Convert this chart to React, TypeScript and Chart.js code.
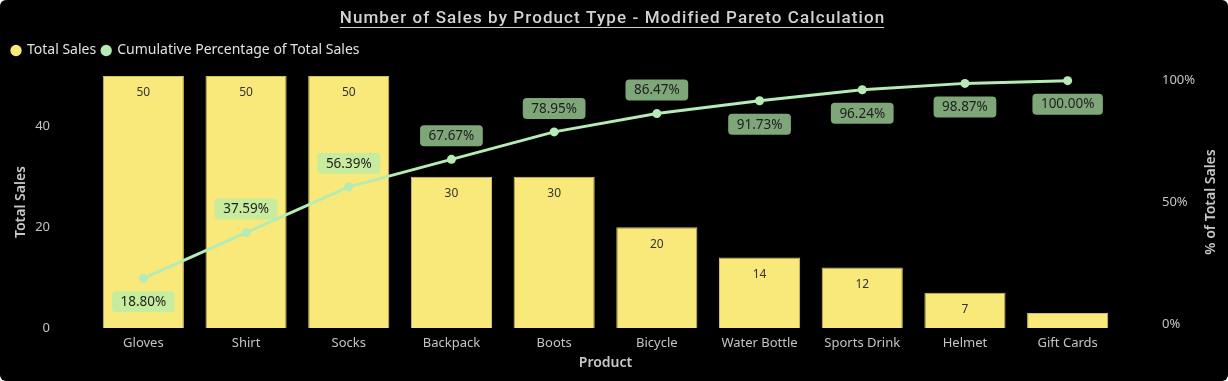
import { useEffect, useRef } from 'react';
import { Chart, registerables } from 'chart.js';

Chart.register(...registerables);

const categories = ['Gloves', 'Shirt', 'Socks', 'Backpack', 'Boots', 'Bicycle', 'Water Bottle', 'Sports Drink', 'Helmet', 'Gift Cards'];
const totalSales = [50, 50, 50, 30, 30, 20, 14, 12, 7, 3];
const cumulativePct = [18.8, 37.59, 56.39, 67.67, 78.95, 86.47, 91.73, 96.24, 98.87, 100.0];
const leftTicks = [0, 20, 40];
const rightTicks = [0, 50, 100];
const chartTitle = 'Number of Sales by Product Type - Modified Pareto Calculation';

const FONT = "'Noto Sans', 'Open Sans', sans-serif";
const TITLE_FONT = "Roboto, 'Noto Sans', sans-serif";
const BAR = '#F9E97A';
const LINE = '#B5EBB5';
const TICK = '#c4c4c4';
const AXIS_TITLE = '#c8c8c8';

export default function App() {
  const ref = useRef<HTMLCanvasElement>(null);

  useEffect(() => {
    const canvas = ref.current;
    if (!canvas) return;

    const legendSpacer = {
      id: 'legendSpacer',
      beforeInit(chart: any) {
        const legend = chart.legend;
        if (!legend) return;
        const orig = legend.fit;
        legend.fit = function () {
          orig.call(this);
          this.height += 8.5;
        };
      },
    };

    const decorations = {
      id: 'decorations',
      afterDraw(chart: any) {
        const ctx = chart.ctx;
        const area = chart.chartArea;
        ctx.save();
        // chart title with underline
        ctx.font = `500 17px ${TITLE_FONT}`;
        ctx.fillStyle = '#d2d2d2';
        ctx.textBaseline = 'alphabetic';
        ctx.textAlign = 'left';
        const baseW = ctx.measureText(chartTitle).width;
        const targetW = 544;
        const spacing = Math.max(0, (targetW - baseW) / (chartTitle.length - 1));
        (ctx as any).letterSpacing = `${spacing}px`;
        const w = ctx.measureText(chartTitle).width - spacing;
        const x0 = 612 - w / 2;
        ctx.fillText(chartTitle, x0, 23);
        (ctx as any).letterSpacing = '0px';
        ctx.strokeStyle = '#d2d2d2';
        ctx.lineWidth = 1;
        ctx.beginPath();
        ctx.moveTo(x0, 27.5);
        ctx.lineTo(x0 + w, 27.5);
        ctx.stroke();
        // right axis title (reads bottom-to-top)
        ctx.font = `600 14px ${FONT}`;
        ctx.fillStyle = AXIS_TITLE;
        ctx.textAlign = 'center';
        ctx.textBaseline = 'middle';
        ctx.translate(1211.5, (area.top + area.bottom) / 2);
        ctx.rotate(-Math.PI / 2);
        ctx.fillText('% of Total Sales', 0, 0);
        ctx.restore();
      },
      afterDatasetsDraw(chart: any) {
        const ctx = chart.ctx;
        const placement: string[] = chart.options.plugins.decorations.placement;
        ctx.save();
        ctx.textAlign = 'center';
        ctx.textBaseline = 'middle';
        // bar value labels (inside end)
        ctx.font = `12px ${FONT}`;
        ctx.fillStyle = '#333333';
        const barMeta = chart.getDatasetMeta(0);
        barMeta.data.forEach((bar: any, i: number) => {
          if (bar.base - bar.y < 24) return;
          ctx.fillText(String(totalSales[i]), bar.x, bar.y + 17);
        });
        // cumulative % labels
        ctx.font = `13.5px ${FONT}`;
        const lineMeta = chart.getDatasetMeta(1);
        lineMeta.data.forEach((pt: any, i: number) => {
          const txt = cumulativePct[i].toFixed(2) + '%';
          const w = ctx.measureText(txt).width + 17;
          const h = 21;
          const cy = pt.y + (placement[i] === 'above' ? -23.5 : 23.5);
          ctx.fillStyle = 'rgba(180,236,172,0.7)';
          ctx.beginPath();
          ctx.roundRect(pt.x - w / 2, cy - h / 2, w, h, 4);
          ctx.fill();
          ctx.fillStyle = '#1e1e1e';
          ctx.fillText(txt, pt.x, cy + 0.5);
        });
        ctx.restore();
      },
    };

    const chart = new Chart(canvas, {
      type: 'bar',
      data: {
        labels: categories,
        datasets: [
          {
            type: 'bar',
            label: 'Total Sales',
            data: totalSales,
            yAxisID: 'y',
            backgroundColor: BAR,
            borderColor: '#cfc060',
            borderWidth: 1,
            categoryPercentage: 1,
            barPercentage: 0.79,
            order: 1,
          },
          {
            type: 'line',
            label: 'Cumulative Percentage of Total Sales',
            data: cumulativePct,
            yAxisID: 'yR',
            borderColor: LINE,
            backgroundColor: LINE,
            borderWidth: 3,
            pointRadius: 4.5,
            pointHoverRadius: 4.5,
            pointBorderWidth: 0,
            pointBackgroundColor: LINE,
            order: 0,
          },
        ],
      } as any,
      options: {
        animation: false,
        responsive: false,
        maintainAspectRatio: false,
        layout: { padding: { left: 6, right: 0, top: 37.5, bottom: 0 } },
        plugins: {
          title: { display: false },
          legend: {
            display: true,
            position: 'top',
            align: 'start',
            labels: {
              usePointStyle: true,
              pointStyle: 'circle',
              boxWidth: 8,
              boxHeight: 8,
              padding: 6,
              color: '#e2e2e2',
              font: { family: FONT, size: 14 },
              sort: (a: any, b: any) => a.datasetIndex - b.datasetIndex,
              generateLabels: (chart: any) => {
                const items = Chart.defaults.plugins.legend.labels.generateLabels(chart);
                return items.map((it: any) => ({ ...it, lineWidth: 0, strokeStyle: it.fillStyle, pointStyle: 'circle' }));
              },
            },
          },
          tooltip: { enabled: false },
          decorations: {
            placement: ['below', 'above', 'above', 'above', 'above', 'above', 'below', 'below', 'below', 'below'],
          },
        } as any,
        scales: {
          x: {
            grid: { display: false, drawTicks: false },
            border: { display: false },
            ticks: { color: TICK, font: { family: FONT, size: 13 }, padding: 7, maxRotation: 0, autoSkip: false },
            title: {
              display: true,
              text: 'Product',
              color: AXIS_TITLE,
              font: { family: FONT, size: 14, weight: '600' as any },
              padding: { top: 0, bottom: 9.6 },
            },
            afterFit: (s: any) => {
              s.height = 53;
            },
          },
          y: {
            position: 'left',
            min: 0,
            max: 50,
            grid: { display: false, drawTicks: false },
            border: { display: false },
            ticks: { color: TICK, font: { family: FONT, size: 13 }, padding: 42 },
            afterBuildTicks: (s: any) => {
              s.ticks = leftTicks.map((v) => ({ value: v }));
            },
            title: {
              display: true,
              text: 'Total Sales',
              color: AXIS_TITLE,
              font: { family: FONT, size: 14, weight: '600' as any },
              padding: { top: 6.6, bottom: 0 },
            },
            afterFit: (s: any) => {
              s.width = 86;
            },
          },
          yR: {
            position: 'right',
            min: -1.6,
            max: 101.9,
            grid: { display: false, drawTicks: false },
            border: { display: false },
            ticks: {
              color: TICK,
              font: { family: FONT, size: 13 },
              padding: 43,
              callback: (v: any) => `${v}%`,
            },
            afterBuildTicks: (s: any) => {
              s.ticks = rightTicks.map((v) => ({ value: v }));
            },
            afterFit: (s: any) => {
              s.width = 109;
            },
          },
        },
      },
      plugins: [legendSpacer, decorations],
    });

    return () => chart.destroy();
  }, []);

  return (
    <div
      style={{
        position: 'fixed',
        top: 0,
        left: 0,
        width: 1228,
        height: 381,
        background: '#000',
        borderRadius: 6,
        overflow: 'hidden',
      }}
    >
      <canvas ref={ref} width={1228} height={381} style={{ display: 'block' }} />
    </div>
  );
}
